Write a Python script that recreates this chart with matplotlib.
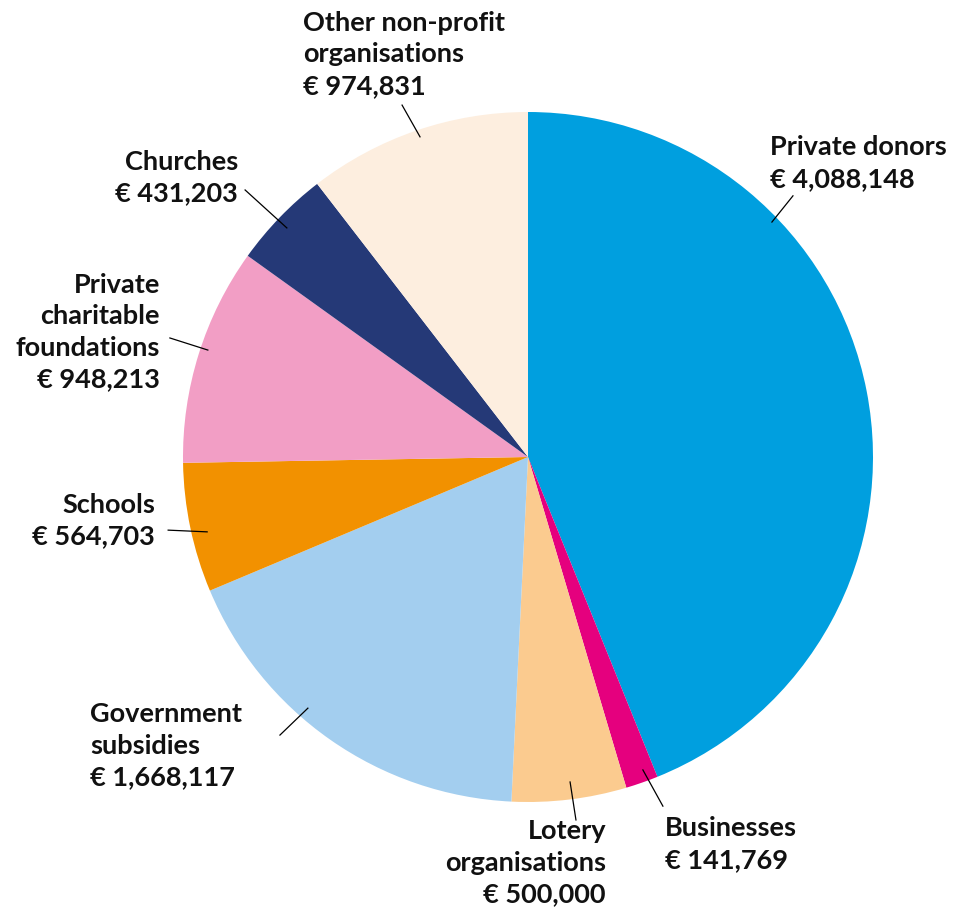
import matplotlib.pyplot as plt

# Daten
categories = ["Private donors", "Businesses", "Lotery\norganisations", "Government\nsubsidies",
              "Schools", "Private\ncharitable\nfoundations", "Churches", "Other non-profit\norganisations"]
amounts = [4088148, 141769, 500000, 1668117, 564703, 948213, 431203, 974831]
colors = ["#009FDF", "#E5007E", "#FBCB8F", "#A3CEEF", "#F29100", "#F29EC5", "#253977", "#FDEEDF"]

# Label-Layout (Datenkoordinaten, Radius = 1)
label_pos = [(0.701, 0.932), (0.397, -1.042), (0.226, -1.050), (-1.270, -0.710),
             (-1.081, -0.104), (-1.067, 0.534), (-0.841, 0.890), (-0.652, 1.294)]
label_ha = ["left", "left", "right", "left", "right", "right", "right", "left"]
line_start = [(0.707, 0.681), (0.333, -0.907), (0.122, -0.942), (-0.638, -0.728),
              (-0.930, -0.217), (-0.928, 0.310), (-0.699, 0.664), (-0.313, 0.928)]
line_end = [(0.768, 0.757), (0.391, -1.012), (0.139, -1.052), (-0.719, -0.806),
            (-1.043, -0.212), (-1.038, 0.345), (-0.820, 0.774), (-0.365, 1.020)]

plt.rcParams.update({"font.family": ["Lato", "DejaVu Sans"], "font.weight": "bold"})

fig = plt.figure(figsize=(9.58, 9.09), dpi=100)
ax = fig.add_axes([183 / 958, (909 - 457 - 345) / 909, 690 / 958, 690 / 909])

wedges, _ = ax.pie(amounts, colors=colors, startangle=90, counterclock=False, radius=1,
                   wedgeprops=dict(linewidth=0))

for i in range(len(amounts)):
    (x0, y0), (x1, y1) = line_start[i], line_end[i]
    ax.plot([x0, x1], [y0, y1], color="black", lw=0.9, clip_on=False)
    tx, ty = label_pos[i]
    ax.text(tx, ty, f"{categories[i]}\n€ {amounts[i]:,}", ha=label_ha[i], va="top",
            multialignment=label_ha[i], fontsize=19.5, fontweight="bold", color="#111111",
            linespacing=1.38)

ax.set_xlim(-1, 1)
ax.set_ylim(-1, 1)
ax.set_aspect("equal")
ax.axis("off")

fig.savefig("out.png", dpi=100)
